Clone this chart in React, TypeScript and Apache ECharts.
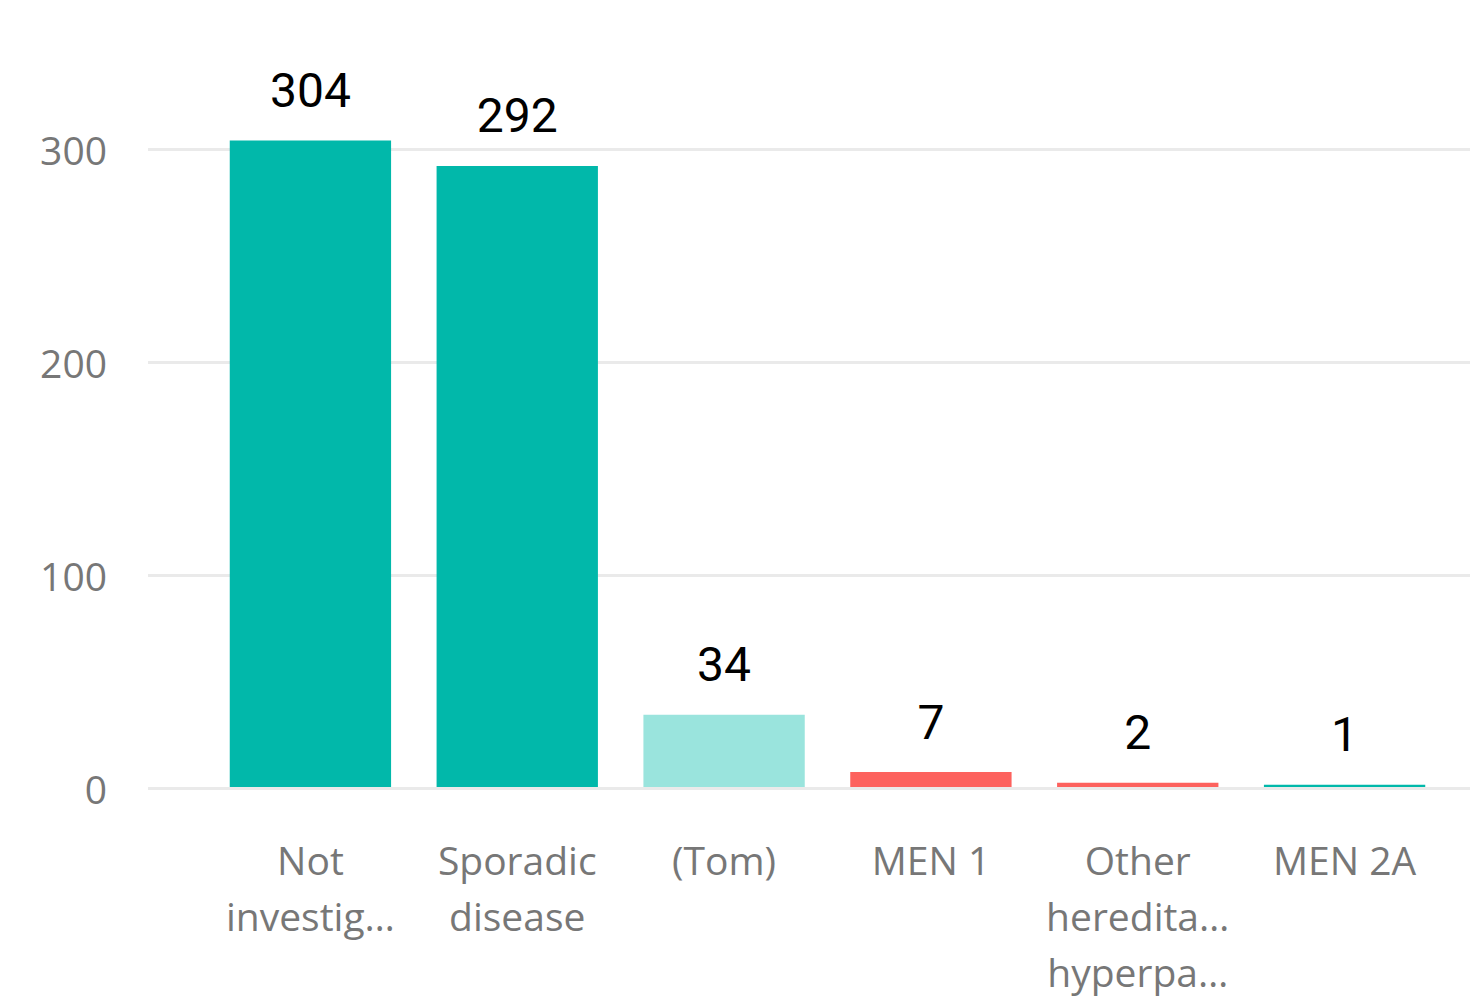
import React, { useEffect, useRef } from "react";
import * as echarts from "echarts";

const categories = ["Not\ninvestig…", "Sporadic\ndisease", "(Tom)", "MEN 1", "Other\nheredita…\nhyperpa…", "MEN 2A"];
const values = [304, 292, 34, 7, 2, 1];
const barColors = ["#01B8AA", "#01B8AA", "#9AE4DD", "#FD625E", "#FD625E", "#01B8AA"];
const yTicks = { min: 0, max: 370, interval: 100 };

export default function App() {
  const ref = useRef<HTMLDivElement>(null);
  useEffect(() => {
    if (!ref.current) return;
    const chart = echarts.init(ref.current, undefined, { renderer: "svg" });
    chart.setOption({
      animation: false,
      backgroundColor: "#ffffff",
      grid: [
        { left: 148, right: 0, top: 0, bottom: 211 },
        { left: 207, right: 22, top: 0, bottom: 211 },
      ],
      xAxis: [
        { type: "value", gridIndex: 0, min: 0, max: 1, show: false },
        {
          type: "category",
          gridIndex: 1,
          data: categories,
          axisLine: { show: false },
          axisTick: { show: false },
          axisLabel: {
            interval: 0,
            margin: 44,
            color: "#777777",
            fontFamily: "Open Sans",
            fontSize: 39,
            lineHeight: 56,
          },
        },
      ],
      yAxis: [
        {
          type: "value",
          gridIndex: 0,
          min: yTicks.min,
          max: yTicks.max,
          interval: yTicks.interval,
          axisLine: { show: false },
          axisTick: { show: false },
          axisLabel: {
            showMaxLabel: false,
            margin: 41,
            color: "#777777",
            fontFamily: "Open Sans",
            fontSize: 39,
            padding: [0, 0, 3, 0],
          },
          splitLine: { showMaxLine: false, lineStyle: { color: "#EAEAEA", width: 3 } },
        },
        {
          type: "value",
          gridIndex: 1,
          min: yTicks.min,
          max: yTicks.max,
          interval: yTicks.interval,
          show: false,
          splitLine: { show: false },
        },
      ],
      series: [
        {
          type: "bar",
          xAxisIndex: 1,
          yAxisIndex: 1,
          barWidth: "78%",
          data: values.map((v, i) => ({ value: v, itemStyle: { color: barColors[i] } })),
          label: {
            show: true,
            position: "top",
            distance: 26,
            color: "#000000",
            fontFamily: "Roboto",
            fontWeight: "normal",
            fontSize: 48,
          },
        },
      ],
    });
    return () => chart.dispose();
  }, []);
  return <div ref={ref} style={{ position: "absolute", left: 0, top: 0, width: 1470, height: 999 }} />;
}
